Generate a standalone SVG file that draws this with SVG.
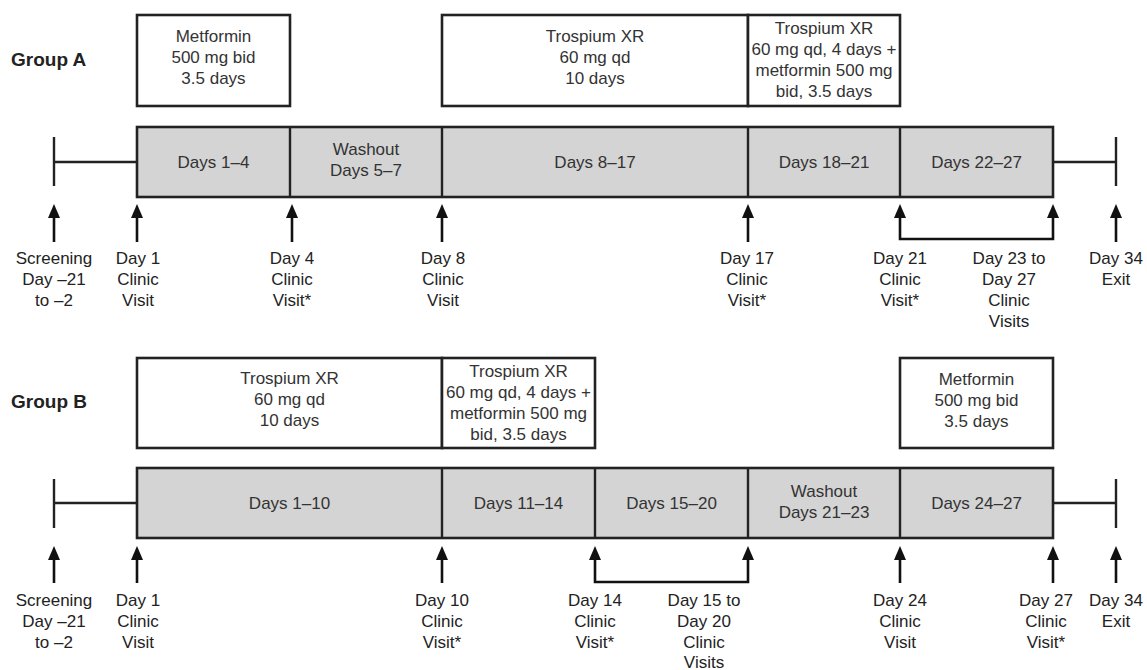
<svg xmlns="http://www.w3.org/2000/svg" width="1147" height="670" viewBox="0 0 1147 670">
<defs>
<marker id="ah" viewBox="0 0 14 12" refX="6" refY="6" markerWidth="14" markerHeight="12" markerUnits="userSpaceOnUse" orient="auto-start-reverse">
<path d="M0,0 L14,6 L0,12 z" fill="#111"/>
</marker>
<style>
text{font-family:"Liberation Sans",Arial,sans-serif;font-size:17px;fill:#222;text-anchor:middle}
.grp{font-weight:bold;font-size:19px;text-anchor:start;fill:#222}
.in{fill:#333}
.box{fill:#fff;stroke:#222;stroke-width:2.6}
.bar{fill:#d4d4d4;stroke:#222;stroke-width:2.6}
.div{stroke:#222;stroke-width:2.4;fill:none}
.ln{stroke:#222;stroke-width:2.4;fill:none}
.arr{stroke:#111;stroke-width:2.6;fill:none;marker-end:url(#ah)}
.brk{stroke:#111;stroke-width:2.6;fill:none;marker-start:url(#ah);marker-end:url(#ah)}
</style>
</defs>

<g id="groupA-title"><text class="grp" x="11" y="66">Group A</text></g>

<g id="A-box-metformin">
<rect class="box" x="137" y="15" width="153" height="91"/>
<text class="in" x="213.5" y="42">Metformin</text>
<text class="in" x="213.5" y="63">500 mg bid</text>
<text class="in" x="213.5" y="84">3.5 days</text>
</g>
<g id="A-box-trospium">
<rect class="box" x="442" y="15" width="306" height="91"/>
<text class="in" x="595" y="42">Trospium XR</text>
<text class="in" x="595" y="63">60 mg qd</text>
<text class="in" x="595" y="84">10 days</text>
</g>
<g id="A-box-combo">
<rect class="box" x="748" y="15" width="152" height="91"/>
<text class="in" x="824" y="34">Trospium XR</text>
<text class="in" x="824" y="55">60 mg qd, 4 days +</text>
<text class="in" x="824" y="76">metformin 500 mg</text>
<text class="in" x="824" y="97">bid, 3.5 days</text>
</g>

<g id="A-timeline">
<rect class="bar" x="137" y="127" width="916" height="70"/>
<line class="div" x1="290" y1="127" x2="290" y2="197"/>
<line class="div" x1="442" y1="127" x2="442" y2="197"/>
<line class="div" x1="748" y1="127" x2="748" y2="197"/>
<line class="div" x1="900" y1="127" x2="900" y2="197"/>
<text class="in" x="213.5" y="168">Days 1–4</text>
<text class="in" x="366" y="155">Washout</text>
<text class="in" x="366" y="176">Days 5–7</text>
<text class="in" x="595" y="168">Days 8–17</text>
<text class="in" x="824" y="168">Days 18–21</text>
<text class="in" x="976.5" y="168">Days 22–27</text>
</g>

<g id="A-screening-tick">
<line class="ln" x1="54" y1="137" x2="54" y2="186"/>
<line class="ln" x1="54" y1="162" x2="137" y2="162"/>
</g>
<g id="A-exit-tick">
<line class="ln" x1="1116" y1="137" x2="1116" y2="186"/>
<line class="ln" x1="1053" y1="162" x2="1116" y2="162"/>
</g>

<g id="A-labels">
<text x="54" y="264">Screening</text>
<text x="54" y="285">Day –21</text>
<text x="54" y="306">to –2</text>
<text x="138" y="264">Day 1</text>
<text x="138" y="285">Clinic</text>
<text x="138" y="306">Visit</text>
<text x="292" y="264">Day 4</text>
<text x="292" y="285">Clinic</text>
<text x="292" y="306">Visit*</text>
<text x="443" y="264">Day 8</text>
<text x="443" y="285">Clinic</text>
<text x="443" y="306">Visit</text>
<text x="747" y="264">Day 17</text>
<text x="747" y="285">Clinic</text>
<text x="747" y="306">Visit*</text>
<text x="900" y="264">Day 21</text>
<text x="900" y="285">Clinic</text>
<text x="900" y="306">Visit*</text>
<text x="1009" y="264">Day 23 to</text>
<text x="1009" y="285">Day 27</text>
<text x="1009" y="306">Clinic</text>
<text x="1009" y="327">Visits</text>
<text x="1116" y="264">Day 34</text>
<text x="1116" y="285">Exit</text>
</g>

<g id="groupB-title"><text class="grp" x="11" y="408">Group B</text></g>

<g id="B-box-trospium">
<rect class="box" x="137" y="358" width="305" height="90"/>
<text class="in" x="289.5" y="384">Trospium XR</text>
<text class="in" x="289.5" y="405">60 mg qd</text>
<text class="in" x="289.5" y="426">10 days</text>
</g>
<g id="B-box-combo">
<rect class="box" x="442" y="358" width="153" height="90"/>
<text class="in" x="518.5" y="377">Trospium XR</text>
<text class="in" x="518.5" y="398">60 mg qd, 4 days +</text>
<text class="in" x="518.5" y="419">metformin 500 mg</text>
<text class="in" x="518.5" y="440">bid, 3.5 days</text>
</g>
<g id="B-box-metformin">
<rect class="box" x="900" y="358" width="153" height="90"/>
<text class="in" x="976.5" y="385">Metformin</text>
<text class="in" x="976.5" y="406">500 mg bid</text>
<text class="in" x="976.5" y="427">3.5 days</text>
</g>

<g id="B-timeline">
<rect class="bar" x="137" y="468" width="916" height="70"/>
<line class="div" x1="442" y1="468" x2="442" y2="538"/>
<line class="div" x1="595" y1="468" x2="595" y2="538"/>
<line class="div" x1="748" y1="468" x2="748" y2="538"/>
<line class="div" x1="900" y1="468" x2="900" y2="538"/>
<text class="in" x="289.5" y="509">Days 1–10</text>
<text class="in" x="518.5" y="509">Days 11–14</text>
<text class="in" x="671.5" y="509">Days 15–20</text>
<text class="in" x="824" y="497">Washout</text>
<text class="in" x="824" y="518">Days 21–23</text>
<text class="in" x="976.5" y="509">Days 24–27</text>
</g>

<g id="B-screening-tick">
<line class="ln" x1="54" y1="479" x2="54" y2="528"/>
<line class="ln" x1="54" y1="503" x2="137" y2="503"/>
</g>
<g id="B-exit-tick">
<line class="ln" x1="1116" y1="479" x2="1116" y2="528"/>
<line class="ln" x1="1053" y1="503" x2="1116" y2="503"/>
</g>

<g id="B-labels">
<text x="54" y="606">Screening</text>
<text x="54" y="627">Day –21</text>
<text x="54" y="648">to –2</text>
<text x="138" y="606">Day 1</text>
<text x="138" y="627">Clinic</text>
<text x="138" y="648">Visit</text>
<text x="442" y="606">Day 10</text>
<text x="442" y="627">Clinic</text>
<text x="442" y="648">Visit*</text>
<text x="595" y="606">Day 14</text>
<text x="595" y="627">Clinic</text>
<text x="595" y="648">Visit*</text>
<text x="704" y="606">Day 15 to</text>
<text x="704" y="627">Day 20</text>
<text x="704" y="648">Clinic</text>
<text x="704" y="668">Visits</text>
<text x="900" y="606">Day 24</text>
<text x="900" y="627">Clinic</text>
<text x="900" y="648">Visit</text>
<text x="1046" y="606">Day 27</text>
<text x="1046" y="627">Clinic</text>
<text x="1046" y="648">Visit*</text>
<text x="1116" y="606">Day 34</text>
<text x="1116" y="627">Exit</text>
</g>

<g id="connectors">
<line class="arr" x1="54" y1="242" x2="54" y2="212"/>
<line class="arr" x1="137" y1="242" x2="137" y2="212"/>
<line class="arr" x1="292" y1="242" x2="292" y2="212"/>
<line class="arr" x1="442" y1="242" x2="442" y2="212"/>
<line class="arr" x1="748" y1="242" x2="748" y2="212"/>
<polyline class="brk" points="900,212 900,239 1053,239 1053,212"/>
<line class="arr" x1="1116" y1="242" x2="1116" y2="212"/>

<line class="arr" x1="54" y1="583" x2="54" y2="554"/>
<line class="arr" x1="137" y1="583" x2="137" y2="554"/>
<line class="arr" x1="442" y1="583" x2="442" y2="554"/>
<polyline class="brk" points="595,554 595,582 748,582 748,554"/>
<line class="arr" x1="900" y1="583" x2="900" y2="554"/>
<line class="arr" x1="1053" y1="583" x2="1053" y2="554"/>
<line class="arr" x1="1116" y1="583" x2="1116" y2="554"/>
</g>
</svg>
